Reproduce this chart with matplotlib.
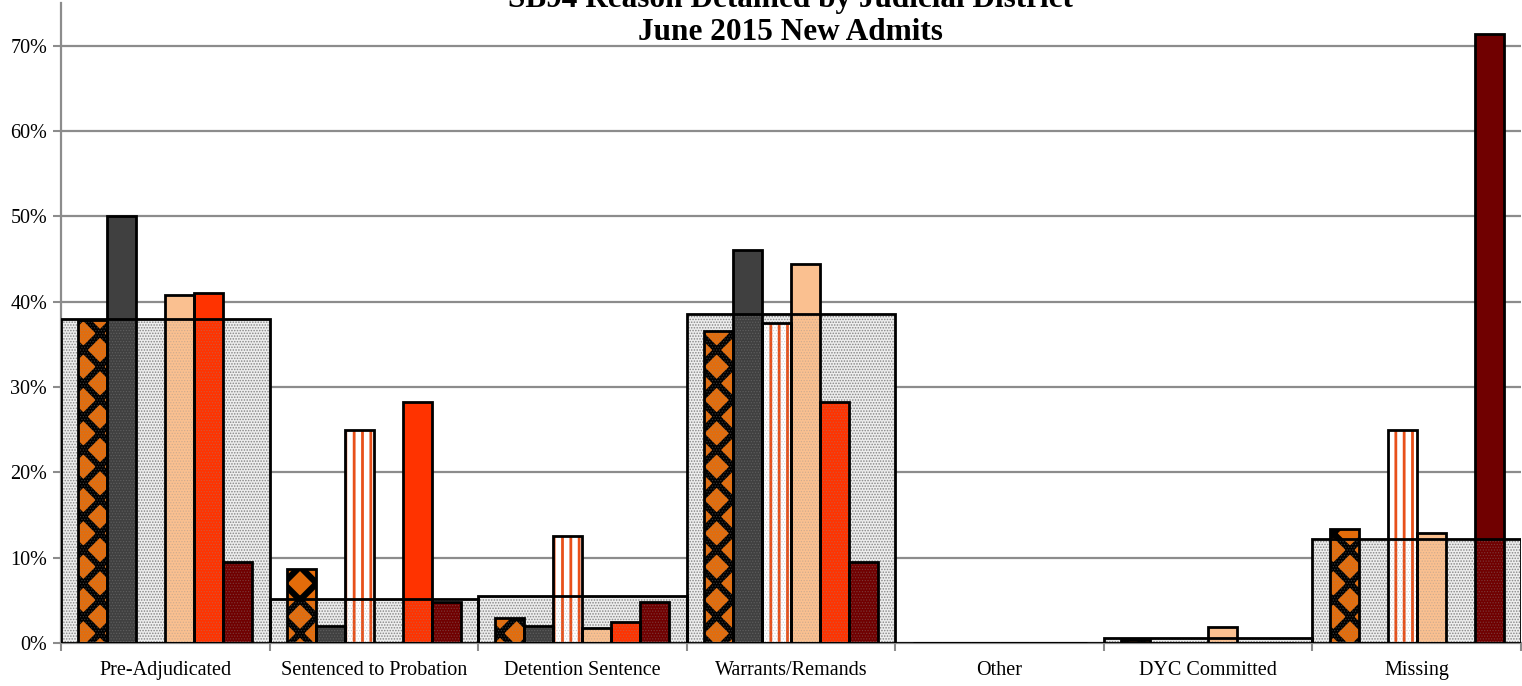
import numpy as np
import matplotlib.pyplot as plt
from matplotlib.ticker import PercentFormatter

categories = ["Pre-Adjudicated", "Sentenced to Probation", "Detention Sentence",
              "Warrants/Remands", "Other", "DYC Committed", "Missing"]

# statewide value (wide background bar)
state_total = [0.380, 0.052, 0.055, 0.385, 0.0, 0.006, 0.122]

# six judicial districts (narrow bars, left to right)
district_1 = [0.378, 0.087, 0.029, 0.366, 0.0, 0.004, 0.134]
district_2 = [0.500, 0.020, 0.020, 0.460, 0.0, 0.0, 0.0]
district_3 = [0.0, 0.250, 0.125, 0.375, 0.0, 0.0, 0.250]
district_4 = [0.408, 0.0, 0.018, 0.444, 0.0, 0.019, 0.129]
district_5 = [0.410, 0.282, 0.025, 0.282, 0.0, 0.0, 0.0]
district_6 = [0.095, 0.048, 0.048, 0.095, 0.0, 0.0, 0.714]

districts = [district_1, district_2, district_3, district_4, district_5, district_6]
# face, hatch, hatch colour, hatch width
styles = [
    ("#E46C0A", "x", "black", 4.5),
    ("#404040", None, None, 0),
    ("white", "||", "#E8501A", 2.0),
    ("#FAC090", None, None, 0),
    ("#FF3300", None, None, 0),
    ("#700000", None, None, 0),
]

serif = ["Liberation Serif", "DejaVu Serif"]


def hatch_width(bars, lw):
    for b in bars:
        if hasattr(b, "set_hatch_linewidth"):
            b.set_hatch_linewidth(lw)


fig = plt.figure(figsize=(15.22, 6.86), dpi=100)
ax = fig.add_axes([61 / 1522, 43 / 686, 1460 / 1522, 640 / 686])

x = np.arange(len(categories))
w = 0.139

# statewide bar behind
back = ax.bar(x, state_total, 1.0, facecolor="#EDEDED", edgecolor="#8f8f8f",
              hatch="......", linewidth=0, zorder=1)
hatch_width(back, 0.7)

for k, vals in enumerate(districts):
    face, hatch, hcol, hlw = styles[k]
    pos = x + (k - 2.5) * w
    if hatch:
        bars = ax.bar(pos, vals, w, color=face, edgecolor=hcol, hatch=hatch, linewidth=0, zorder=2)
        hatch_width(bars, hlw)
    else:
        ax.bar(pos, vals, w, color=face, linewidth=0, zorder=2)
    ax.bar(pos, vals, w, facecolor="none", edgecolor="black", linewidth=2, zorder=5)

# faint stipple of the statewide bar over the district bars
over = ax.bar(x, state_total, 1.0, facecolor="none", edgecolor=(0.55, 0.55, 0.55, 0.35),
              hatch="......", linewidth=0, zorder=3)
hatch_width(over, 0.6)
ax.bar(x, state_total, 1.0, facecolor="none", edgecolor="black", linewidth=2, zorder=4)

ax.set_xlim(-0.5, len(categories) - 0.5)
ax.set_ylim(0, 0.75)
ax.set_yticks(np.arange(0, 0.71, 0.1))
ax.yaxis.set_major_formatter(PercentFormatter(1.0, decimals=0))
ax.grid(axis="y", color="#8c8c8c", linewidth=1.6, zorder=0)
ax.set_axisbelow(True)

ax.set_xticks(x)
ax.set_xticklabels(categories)
ax.set_xticks(np.arange(-0.5, len(categories), 1.0), minor=True)
ax.tick_params(axis="x", which="major", length=0, pad=13)
ax.tick_params(axis="x", which="minor", length=6, color="#8c8c8c", width=1.5)
ax.tick_params(axis="y", length=6, color="#8c8c8c", width=1.5, pad=4)
for lab in ax.get_xticklabels() + ax.get_yticklabels():
    lab.set_family(serif)
    lab.set_fontsize(14.5)

for s in ["top", "right"]:
    ax.spines[s].set_visible(False)
for s in ["left", "bottom"]:
    ax.spines[s].set_color("#8c8c8c")
    ax.spines[s].set_linewidth(1.6)

# title: first line runs off the top edge as in the original
fig.text(790 / 1522, 1 - 0 / 686, "SB94 Reason Detained by Judicial District",
         ha="center", va="center", family=serif, fontsize=22.5, fontweight="bold")
fig.text(790 / 1522, 1 - 33 / 686, "June 2015 New Admits",
         ha="center", va="center", family=serif, fontsize=22.5, fontweight="bold")

fig.savefig("out.png", dpi=100)
